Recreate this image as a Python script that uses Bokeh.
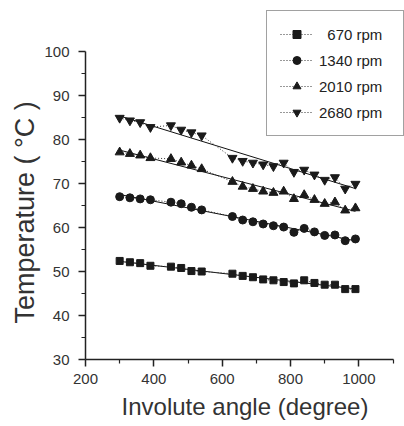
import numpy as np
from bokeh.plotting import figure
from bokeh.models import Range1d, FixedTicker, Legend, LegendItem, Title
from bokeh.embed import file_html
from bokeh.resources import INLINE

# ---- data ----
angle = [300, 330, 360, 390, 450, 480, 510, 540, 630, 660, 690, 720, 750,
         780, 810, 840, 870, 900, 930, 960, 990]
t670 = [52.4, 52.1, 51.9, 51.3, 51.1, 50.8, 50.1, 50.0, 49.5, 49.0, 48.7,
        48.2, 48.0, 47.6, 47.3, 48.0, 47.4, 47.0, 47.0, 46.0, 46.0]
t1340 = [67.0, 66.75, 66.5, 66.3, 65.75, 65.4, 64.6, 64.0, 62.5, 61.7, 61.3,
         60.8, 60.4, 60.1, 58.9, 59.8, 59.0, 58.2, 58.3, 57.0, 57.4]
t2010 = [77.1, 76.75, 76.4, 75.8, 75.6, 74.8, 74.1, 73.3, 70.4, 69.3, 68.8,
         68.2, 67.9, 68.2, 66.5, 67.4, 66.3, 65.4, 65.75, 63.9, 64.4]
t2680 = [84.9, 84.3, 83.9, 82.8, 83.2, 82.2, 81.6, 80.9, 75.8, 75.1, 74.7,
         74.3, 73.9, 74.7, 72.6, 73.1, 72.0, 70.8, 71.4, 68.8, 69.9]
series_labels = ["\u2007670 rpm", "1340 rpm", "2010 rpm", "2680 rpm"]
x_ticks = [200, 400, 600, 800, 1000]
x_minor = [300, 500, 700, 900, 1100]
y_ticks = [30, 40, 50, 60, 70, 80, 90, 100]
y_minor = [35, 45, 55, 65, 75, 85, 95]

W, H = 404, 424
p = figure(width=W, height=H, output_backend="svg", toolbar_location=None,
           x_range=Range1d(200, 200 + (W - 85) / 0.3417),
           y_range=Range1d(30, 30 + 349 / 4.4),
           min_border_left=85, min_border_right=0, min_border_top=10,
           min_border_bottom=H - 359)
p.outline_line_color = None
p.xgrid.visible = False
p.ygrid.visible = False
p.background_fill_color = "white"
p.border_fill_color = "white"

FONT = "Liberation Sans"
INK = "#222222"

for ax in (p.xaxis[0], p.yaxis[0]):
    ax.axis_line_width = 1.5
    ax.axis_line_color = INK
    ax.major_tick_line_width = 1.5
    ax.major_tick_line_color = INK
    ax.minor_tick_line_width = 1.2
    ax.minor_tick_line_color = INK
    ax.major_tick_in = 0
    ax.minor_tick_in = 0
    ax.major_tick_out = 7
    ax.minor_tick_out = 4
    ax.major_label_text_font = FONT
    ax.major_label_text_font_size = "15px"
    ax.major_label_text_color = "#333333"

p.xaxis[0].ticker = FixedTicker(ticks=x_ticks, minor_ticks=x_minor)
p.xaxis[0].bounds = (200, 1100)
p.xaxis[0].major_label_standoff = 7
p.xaxis[0].axis_label = "Involute angle (degree)"
p.xaxis[0].axis_label_text_font = FONT
p.xaxis[0].axis_label_text_font_size = "24px"
p.xaxis[0].axis_label_text_font_style = "normal"
p.xaxis[0].axis_label_text_color = "#333333"
p.xaxis[0].axis_label_standoff = 6

p.yaxis[0].ticker = FixedTicker(ticks=y_ticks, minor_ticks=y_minor)
p.yaxis[0].bounds = (30, 100)
p.yaxis[0].major_label_standoff = 9

# y title as a left-side title, started from the bottom with an offset
ytitle = Title(text="Temperature ( \u00b0C )", align="left", offset=36,
               standoff=4, text_font=FONT, text_font_size="27px",
               text_font_style="normal", text_color="#333333")
p.add_layout(ytitle, "left")

data = [t670, t1340, t2010, t2680]
markers = ["square", "circle", "triangle", "inverted_triangle"]
sizes = [7, 8, 9, 9]
items = []
for lab, t, mk, sz in zip(series_labels, data, markers, sizes):
    # linear fit line (solid)
    k, b = np.polyfit(angle, t, 1)
    xf = [angle[0], angle[-1]]
    p.line(xf, [k * v + b for v in xf], line_color="#111111", line_width=1)
    # dotted connecting line + markers
    ln = p.line(angle, t, line_color="#333333", line_width=1, line_dash="1 2")
    sc = p.scatter(angle, t, marker=mk, size=sz, fill_color="#1a1a1a",
                   line_color="#1a1a1a")
    items.append(LegendItem(label=lab, renderers=[ln, sc]))

legend = Legend(items=items, location="top_right")
legend.border_line_color = "#444444"
legend.border_line_width = 1
legend.background_fill_color = "white"
legend.background_fill_alpha = 1
legend.label_text_font = FONT
legend.label_text_font_size = "15px"
legend.label_text_color = "#222222"
legend.glyph_width = 33
legend.glyph_height = 20
legend.label_height = 20
legend.label_width = 71
legend.label_standoff = 6
legend.spacing = 6
legend.padding = 13
legend.margin = 0
p.add_layout(legend)

open("out.html", "w").write(file_html(p, INLINE))
